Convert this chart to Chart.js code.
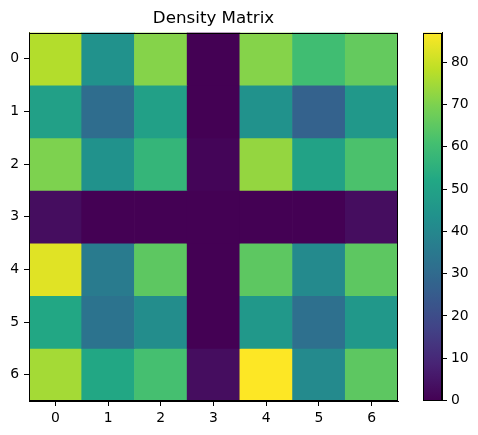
<!DOCTYPE html>
<html>
<head>
<meta charset="utf-8">
<script src="https://cdn.jsdelivr.net/npm/chart.js@4"></script>
<style>
  body { margin: 0; background: #fff; }
  #wrap { position: relative; width: 478px; height: 435px; }
  #wrap canvas { position: absolute; left: 0; top: 0; }
</style>
</head>
<body>
<div id="wrap">
  <canvas id="chart" width="478" height="435"></canvas>
  <canvas id="cbar" width="478" height="435"></canvas>
</div>
<script>
const colLabels = ['0', '1', '2', '3', '4', '5', '6'];
const rowLabels = [0, 1, 2, 3, 4, 5, 6];
const row0 = [77, 44, 71, 0, 71, 60, 66];
const row1 = [49, 31, 49, 0, 44, 27, 46];
const row2 = [70, 44, 57, 1, 73, 50, 62];
const row3 = [3, 0, 0, 0, 0, 0, 3];
const row4 = [83, 36, 65, 0, 65, 41, 65];
const row5 = [52, 33, 42, 0, 46, 32, 46];
const row6 = [75, 52, 61, 3, 87, 41, 65];
const rows = [row0, row1, row2, row3, row4, row5, row6];
const cbarTicks = [0, 10, 20, 30, 40, 50, 60, 70, 80];

const vmin = Math.min(...rows.flat());
const vmax = Math.max(...rows.flat());

// viridis stops
const viridis = ['#440154', '#482475', '#414487', '#355f8d', '#2a788e', '#21918c',
                 '#22a884', '#44bf70', '#7ad151', '#bddf26', '#fde725'];
const hex = h => [1, 3, 5].map(i => parseInt(h.substr(i, 2), 16));
const viridisColor = (t) => {
    t = Math.max(0, Math.min(1, t)) * (viridis.length - 1);
    const i = Math.min(Math.floor(t), viridis.length - 2);
    const f = t - i;
    const a = hex(viridis[i]), b = hex(viridis[i + 1]);
    const c = a.map((v, k) => Math.round(v + (b[k] - v) * f));
    return `rgb(${c[0]},${c[1]},${c[2]})`;
};

const font = {family: 'DejaVu Sans', size: 13.9};

const frame = {
    id: 'frame',
    afterDraw(chart) {
        const {ctx, chartArea: a} = chart;
        ctx.save();
        ctx.strokeStyle = '#000';
        ctx.lineWidth = 1;
        ctx.strokeRect(Math.round(a.left) + 0.5, Math.round(a.top) + 0.5,
            Math.round(a.right - a.left) - 1, Math.round(a.bottom - a.top) - 1);
        ctx.restore();
    }
};

new Chart(document.getElementById('chart'), {
    type: 'bar',
    data: {
        labels: colLabels,
        datasets: rows.map((r, i) => ({
            data: r.map(() => [rowLabels[i] - 0.5, rowLabels[i] + 0.5]),
            backgroundColor: r.map(v => viridisColor((v - vmin) / (vmax - vmin))),
            borderWidth: 0,
            grouped: false,
            barPercentage: 1,
            categoryPercentage: 1
        }))
    },
    options: {
        responsive: false,
        animation: false,
        devicePixelRatio: 1,
        layout: {padding: {left: 0, top: 0, right: 80, bottom: 0}},
        plugins: {
            legend: {display: false},
            tooltip: {enabled: false},
            title: {
                display: true,
                text: 'Density Matrix',
                fullSize: false,
                color: '#000',
                font: {family: 'DejaVu Sans', size: 16.7, weight: 'normal'},
                padding: {top: 8.5, bottom: 4}
            }
        },
        scales: {
            x: {
                type: 'category',
                offset: true,
                grid: {drawOnChartArea: false, offset: false, tickLength: 5, color: '#000'},
                border: {display: true, color: '#000'},
                ticks: {color: '#000', font: font, padding: 4, maxRotation: 0},
                afterFit: (s) => { s.height = 34; }
            },
            y: {
                type: 'linear',
                reverse: true,
                min: -0.5,
                max: 6.5,
                grid: {drawOnChartArea: false, tickLength: 5, color: '#000'},
                border: {display: true, color: '#000'},
                ticks: {color: '#000', font: font, padding: 5},
                afterBuildTicks: (axis) => {
                    axis.ticks = rowLabels.map(v => ({value: v}));
                },
                afterFit: (s) => { s.width = 29; }
            }
        }
    },
    plugins: [frame]
});

new Chart(document.getElementById('cbar'), {
    type: 'bar',
    data: {
        labels: [''],
        datasets: [{
            data: [[vmin, vmax]],
            backgroundColor: (c) => {
                const a = c.chart.chartArea;
                if (!a) return viridis[0];
                const g = c.chart.ctx.createLinearGradient(0, a.bottom, 0, a.top);
                for (let i = 0; i <= 40; i++) g.addColorStop(i / 40, viridisColor(i / 40));
                return g;
            },
            borderWidth: 0,
            barPercentage: 1,
            categoryPercentage: 1
        }]
    },
    options: {
        responsive: false,
        animation: false,
        devicePixelRatio: 1,
        layout: {padding: {left: 423, top: 32.5, right: 0, bottom: 34.5}},
        plugins: {legend: {display: false}, tooltip: {enabled: false}},
        scales: {
            x: {display: false},
            y: {
                position: 'right',
                min: vmin,
                max: vmax,
                grid: {drawOnChartArea: false, tickLength: 5, color: '#000'},
                border: {display: true, color: '#000'},
                ticks: {color: '#000', font: font, padding: 4},
                afterBuildTicks: (axis) => {
                    axis.ticks = cbarTicks.map(v => ({value: v}));
                },
                afterFit: (s) => { s.width = 36; }
            }
        }
    },
    plugins: [frame]
});
</script>
</body>
</html>
